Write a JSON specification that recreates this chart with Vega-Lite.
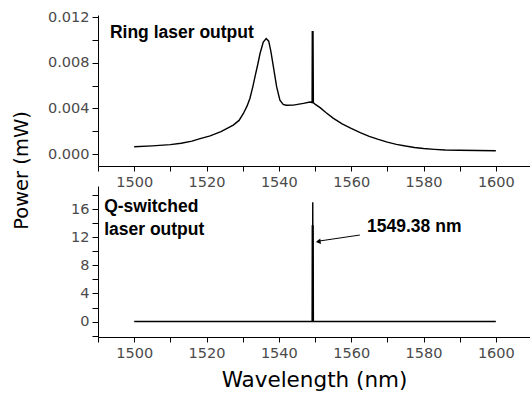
{
  "$schema": "https://vega.github.io/schema/vega-lite/v6.json",
  "background": "white",
  "padding": {"left": 11, "top": 9, "right": 0, "bottom": 0},
  "bounds": "flush",
  "spacing": 20,
  "config": {
    "view": {"stroke": null},
    "axis": {
      "grid": false,
      "domainColor": "black",
      "domainWidth": 1,
      "tickColor": "black",
      "tickWidth": 1,
      "tickCount": 100,
      "labelFont": "DejaVu Sans",
      "labelFontSize": 14.5,
      "labelColor": "#4a4a4a",
      "labelOverlap": false,
      "labelFlush": false,
      "titleFont": "DejaVu Sans",
      "titleFontSize": 20,
      "titleFontWeight": "normal",
      "titleColor": "black"
    }
  },
  "datasets": {
    "ring": [
      {"wl": 1500, "p": 0.00064},
      {"wl": 1505, "p": 0.00072},
      {"wl": 1510, "p": 0.00083},
      {"wl": 1513, "p": 0.00095},
      {"wl": 1516, "p": 0.00113},
      {"wl": 1518, "p": 0.00133},
      {"wl": 1521, "p": 0.0016},
      {"wl": 1524, "p": 0.00197},
      {"wl": 1527.4, "p": 0.00254},
      {"wl": 1529, "p": 0.00295},
      {"wl": 1530.2, "p": 0.00356},
      {"wl": 1531.2, "p": 0.0042},
      {"wl": 1532, "p": 0.00488},
      {"wl": 1532.8, "p": 0.0059},
      {"wl": 1533.4, "p": 0.00677},
      {"wl": 1534.2, "p": 0.0079},
      {"wl": 1534.8, "p": 0.00882},
      {"wl": 1535.7, "p": 0.00983},
      {"wl": 1536.5, "p": 0.01013},
      {"wl": 1537.2, "p": 0.0099},
      {"wl": 1537.8, "p": 0.009},
      {"wl": 1538.5, "p": 0.00764},
      {"wl": 1539.4, "p": 0.00589},
      {"wl": 1540.3, "p": 0.00473},
      {"wl": 1541.2, "p": 0.00435},
      {"wl": 1542, "p": 0.00428},
      {"wl": 1544, "p": 0.00429},
      {"wl": 1546.8, "p": 0.00444},
      {"wl": 1548.6, "p": 0.00456},
      {"wl": 1549.2, "p": 0.00452},
      {"wl": 1549.25, "p": 0.0108},
      {"wl": 1549.35, "p": 0.0045},
      {"wl": 1549.45, "p": 0.0108},
      {"wl": 1549.55, "p": 0.0045},
      {"wl": 1550, "p": 0.00438},
      {"wl": 1551.5, "p": 0.00405},
      {"wl": 1553, "p": 0.00365},
      {"wl": 1555, "p": 0.00315},
      {"wl": 1557.5, "p": 0.00265},
      {"wl": 1560, "p": 0.00225},
      {"wl": 1562.5, "p": 0.00188},
      {"wl": 1565, "p": 0.00155},
      {"wl": 1567.5, "p": 0.00128},
      {"wl": 1570, "p": 0.00104},
      {"wl": 1572.5, "p": 0.00085},
      {"wl": 1575, "p": 0.0007},
      {"wl": 1577.5, "p": 0.00057},
      {"wl": 1580, "p": 0.00048},
      {"wl": 1583, "p": 0.00041},
      {"wl": 1586, "p": 0.00036},
      {"wl": 1590, "p": 0.00033},
      {"wl": 1595, "p": 0.00031},
      {"wl": 1600, "p": 0.00029}
    ],
    "qs": [
      {"wl": 1500, "p": 0},
      {"wl": 1549.2, "p": 0},
      {"wl": 1549.25, "p": 13.7},
      {"wl": 1549.3, "p": 0},
      {"wl": 1549.38, "p": 17.0},
      {"wl": 1549.45, "p": 0},
      {"wl": 1549.5, "p": 13.7},
      {"wl": 1549.55, "p": 0},
      {"wl": 1600, "p": 0}
    ],
    "toplabel": [
      {"wl": 1493.3, "p": 0.0106, "t": "Ring laser output"}
    ],
    "botlabel": [
      {"wl": 1491.7, "p": 16.25, "t": "Q-switched"},
      {"wl": 1491.7, "p": 13.1, "t": "laser output"},
      {"wl": 1564.4, "p": 13.5, "t": "1549.38 nm"}
    ],
    "arrow": [
      {"wl": 1562.4, "p": 12.32, "wl2": 1550.6, "p2": 11.42}
    ],
    "head": [
      {"wl": 1550.9, "p": 11.38}
    ]
  },
  "vconcat": [
    {
      "width": 434,
      "height": 151,
      "layer": [
        {
          "data": {"name": "ring"},
          "mark": {"type": "line", "color": "black", "strokeWidth": 1.4},
          "encoding": {
            "x": {
              "field": "wl", "type": "quantitative",
              "scale": {"domain": [1490, 1610], "nice": false, "zero": false},
              "axis": {
                "title": null,
                "values": [1490, 1500, 1510, 1520, 1530, 1540, 1550, 1560, 1570, 1580, 1590, 1600, 1610],
                "labelExpr": "(datum.value % 20 === 0 && datum.value >= 1500 && datum.value <= 1600) ? format(datum.value, 'd') : ''",
                "tickSize": 5,
                "labelPadding": 4
              }
            },
            "y": {
              "field": "p", "type": "quantitative",
              "scale": {"domain": [-0.00105, 0.0122], "nice": false, "zero": false},
              "axis": {
                "title": "Power (mW)",
                "values": [0, 0.002, 0.004, 0.006, 0.008, 0.01, 0.012],
                "labelExpr": "round(datum.value * 1000) % 4 === 0 ? format(datum.value, '.3f') : ''",
                "tickSize": 6,
                "labelPadding": 3,
                "titleFontSize": 19.5,
                "titleX": -77,
                "titleY": 155,
                "titleAngle": 270,
                "titleAlign": "center",
                "titleBaseline": "middle"
              }
            }
          }
        },
        {
          "data": {"name": "toplabel"},
          "mark": {"type": "text", "align": "left", "baseline": "middle", "font": "Liberation Sans", "fontSize": 17.5, "fontWeight": "bold", "color": "black"},
          "encoding": {
            "x": {"field": "wl", "type": "quantitative"},
            "y": {"field": "p", "type": "quantitative"},
            "text": {"field": "t"}
          }
        }
      ]
    },
    {
      "width": 434,
      "height": 151,
      "layer": [
        {
          "data": {"name": "qs"},
          "mark": {"type": "line", "color": "black", "strokeWidth": 1.4},
          "encoding": {
            "x": {
              "field": "wl", "type": "quantitative",
              "scale": {"domain": [1490, 1610], "nice": false, "zero": false},
              "axis": {
                "title": "Wavelength (nm)",
                "values": [1490, 1500, 1510, 1520, 1530, 1540, 1550, 1560, 1570, 1580, 1590, 1600, 1610],
                "labelExpr": "(datum.value % 20 === 0 && datum.value >= 1500 && datum.value <= 1600) ? format(datum.value, 'd') : ''",
                "tickSize": 5,
                "labelPadding": 4,
                "titleFontSize": 21.5,
                "titlePadding": 10,
                "titleX": 216
              }
            },
            "y": {
              "field": "p", "type": "quantitative",
              "scale": {"domain": [-2.2, 19.3], "nice": false, "zero": false},
              "axis": {
                "title": null,
                "values": [-2, 0, 2, 4, 6, 8, 10, 12, 14, 16, 18],
                "labelExpr": "(datum.value % 4 === 0 && datum.value >= 0 && datum.value <= 16) ? format(datum.value, 'd') : ''",
                "tickSize": 6,
                "labelPadding": 3
              }
            }
          }
        },
        {
          "data": {"name": "arrow"},
          "mark": {"type": "rule", "color": "black", "strokeWidth": 1},
          "encoding": {
            "x": {"field": "wl", "type": "quantitative"},
            "y": {"field": "p", "type": "quantitative"},
            "x2": {"field": "wl2"},
            "y2": {"field": "p2"}
          }
        },
        {
          "data": {"name": "head"},
          "mark": {"type": "point", "shape": "triangle-left", "filled": true, "color": "black", "size": 30, "angle": 352, "opacity": 1},
          "encoding": {
            "x": {"field": "wl", "type": "quantitative"},
            "y": {"field": "p", "type": "quantitative"}
          }
        },
        {
          "data": {"name": "botlabel"},
          "mark": {"type": "text", "align": "left", "baseline": "middle", "font": "Liberation Sans", "fontSize": 17.5, "fontWeight": "bold", "color": "black"},
          "encoding": {
            "x": {"field": "wl", "type": "quantitative"},
            "y": {"field": "p", "type": "quantitative"},
            "text": {"field": "t"}
          }
        }
      ]
    }
  ]
}
